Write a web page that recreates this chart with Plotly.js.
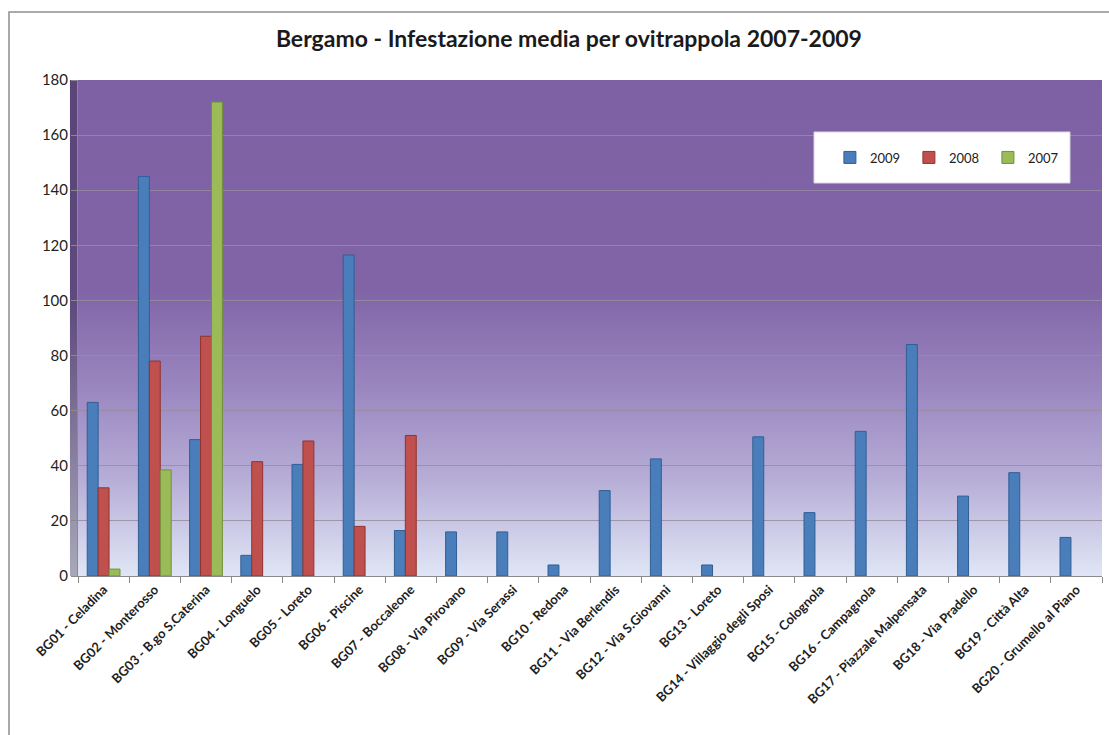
<!DOCTYPE html>
<html>
<head>
<meta charset="utf-8">
<script src="https://cdn.plot.ly/plotly-3.0.1.min.js"></script>
<style>html,body{margin:0;padding:0;background:#fff;}#chart{width:1109px;height:735px;}</style>
</head>
<body>
<div id="chart"></div>
<script>
const categories = [
  "BG01 - Celadina", "BG02 - Monterosso", "BG03 - B.go S.Caterina", "BG04 - Longuelo",
  "BG05 - Loreto", "BG06 - Piscine", "BG07 - Boccaleone", "BG08 - Via Pirovano",
  "BG09 - Via Serassi", "BG10 - Redona", "BG11 - Via Berlendis", "BG12 - Via S.Giovanni",
  "BG13 - Loreto", "BG14 - Villaggio degli Sposi", "BG15 - Colognola", "BG16 - Campagnola",
  "BG17 - Piazzale Malpensata", "BG18 - Via Pradello", "BG19 - Città Alta", "BG20 - Grumello al Piano"
];
const values2009 = [63, 145, 49.5, 7.5, 40.5, 116.5, 16.5, 16, 16, 4, 31, 42.5, 4, 50.5, 23, 52.5, 84, 29, 37.5, 14];
const values2008 = [32, 78, 87, 41.5, 49, 18, 51, null, null, null, null, null, null, null, null, null, null, null, null, null];
const values2007 = [2.5, 38.5, 172, null, null, null, null, null, null, null, null, null, null, null, null, null, null, null, null, null];
const seriesNames = ["2009", "2008", "2007"];
const yTicks = [0, 20, 40, 60, 80, 100, 120, 140, 160, 180];

const FONT = "Lato, 'Open Sans', sans-serif";

const wallSvg = '<svg xmlns="http://www.w3.org/2000/svg" width="100" height="100" preserveAspectRatio="none">' +
  '<defs><linearGradient id="g" x1="0" y1="0" x2="0" y2="1">' +
  '<stop offset="0" stop-color="#7e61a4"/>' +
  '<stop offset="0.42" stop-color="#8064a6"/>' +
  '<stop offset="0.62" stop-color="#9a86bf"/>' +
  '<stop offset="0.80" stop-color="#b6acd6"/>' +
  '<stop offset="1" stop-color="#e0e6f6"/>' +
  '</linearGradient></defs><rect width="100" height="100" fill="url(#g)"/></svg>';
const sideSvg = '<svg xmlns="http://www.w3.org/2000/svg" width="10" height="100" preserveAspectRatio="none">' +
  '<defs><linearGradient id="s" x1="0" y1="0" x2="0" y2="1">' +
  '<stop offset="0" stop-color="#5a4478"/>' +
  '<stop offset="0.45" stop-color="#5e4a7e"/>' +
  '<stop offset="1" stop-color="#a8a8b8"/>' +
  '</linearGradient></defs><rect width="10" height="100" fill="url(#s)"/></svg>';
const toUri = s => 'data:image/svg+xml;charset=utf-8,' + encodeURIComponent(s);

const colors = ["#4a7ebb", "#c0504d", "#9bbb59"];
const lineColors = ["#2f5f95", "#8f3431", "#71903a"];
const seriesValues = [values2009, values2008, values2007];

const data = seriesNames.map((name, i) => ({
  type: 'bar',
  name: name,
  x: categories,
  y: seriesValues[i],
  marker: {color: colors[i], line: {color: lineColors[i], width: 1}},
  hoverinfo: 'x+y+name'
}));

const layout = {
  width: 1109,
  height: 735,
  margin: {l: 78, r: 7, t: 80, b: 159},
  paper_bgcolor: '#ffffff',
  plot_bgcolor: 'rgba(0,0,0,0)',
  barmode: 'group',
  bargap: 0.36,
  bargroupgap: 0,
  title: {
    text: 'Bergamo - Infestazione media per ovitrappola 2007-2009',
    font: {family: FONT, size: 23, color: '#1a1a1a', weight: 'bold'},
    xref: 'container', x: 0.513, xanchor: 'center',
    yref: 'container', y: 0.947, yanchor: 'middle'
  },
  xaxis: {
    type: 'category',
    tickangle: -45,
    tickson: 'boundaries',
    ticks: 'outside',
    ticklen: 6,
    tickcolor: '#8a8a8a',
    showline: true,
    linecolor: '#8a8a8a',
    showgrid: false,
    tickfont: {family: FONT, size: 13, color: '#1e1e1e', weight: 'bold'}
  },
  yaxis: {
    range: [0, 180],
    tickvals: yTicks,
    ticktext: yTicks.map(String),
    ticks: 'outside',
    ticklen: 6,
    tickcolor: '#8a8a8a',
    showline: true,
    linecolor: '#8a8a8a',
    gridcolor: 'rgba(150,140,160,0.85)',
    gridwidth: 1,
    zeroline: false,
    tickfont: {family: FONT, size: 15, color: '#222'}
  },
  legend: {
    orientation: 'h',
    x: 0.85, xanchor: 'center',
    y: 0.8438, yanchor: 'middle',
    bgcolor: 'rgba(0,0,0,0)',
    font: {family: FONT, size: 13, color: '#222'},
    entrywidth: 34,
    entrywidthmode: 'pixels'
  },
  images: [
    {source: toUri(wallSvg), xref: 'paper', yref: 'paper', x: 0, y: 1, sizex: 1, sizey: 1,
     xanchor: 'left', yanchor: 'top', sizing: 'stretch', layer: 'below'},
    {source: toUri(sideSvg), xref: 'paper', yref: 'paper', x: -0.008, y: 1, sizex: 0.008, sizey: 1,
     xanchor: 'left', yanchor: 'top', sizing: 'stretch', layer: 'below'}
  ],
  shapes: [
    {type: 'rect', xref: 'paper', yref: 'paper', x0: 0.71875, x1: 0.96875, y0: 0.7923, y1: 0.8952,
     fillcolor: '#ffffff', line: {color: '#d8d4e0', width: 1}, layer: 'above'},
    {type: 'rect', xref: 'paper', yref: 'paper', x0: -0.0674, x1: 1.02, y0: -0.36, y1: 1.1371,
     fillcolor: 'rgba(0,0,0,0)', line: {color: '#8e8e8e', width: 1.5}, layer: 'above'}
  ]
};

Plotly.newPlot('chart', data, layout, {displayModeBar: false, staticPlot: true});
</script>
</body>
</html>
